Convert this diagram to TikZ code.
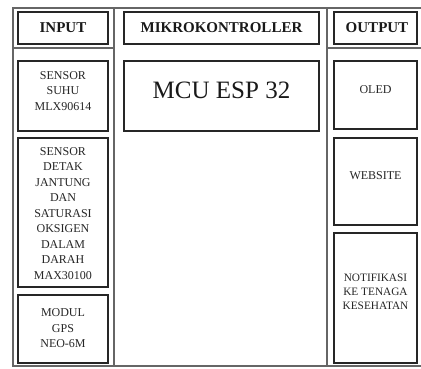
\documentclass[tikz,border=0pt]{standalone}
\usepackage{fontspec}
\setmainfont{Liberation Serif}
\begin{document}
\begin{tikzpicture}[x=1pt,y=-1pt,
  box/.style={draw=black!85, line width=1.1pt, inner sep=0pt, fill=none},
  frame/.style={draw=black!60, line width=1.4pt},
  hdr/.style={font=\fontsize{15}{18}\selectfont\bfseries, text=black!90, inner sep=0pt},
  lbl/.style={font=\fontsize{12}{15.5}\selectfont, align=center, text=black!85, inner sep=0pt},
  small/.style={font=\fontsize{11.3}{13.8}\selectfont, align=center, text=black!85, inner sep=0pt}]
\useasboundingbox (0,0) rectangle (421,368);
\fill[white] (0,0) rectangle (421,368);
% frame
\coordinate (tl) at (13,8);
\coordinate (tr) at (421,8);
\coordinate (bl) at (13,366);
\coordinate (br) at (421,366);
\draw[frame] (tr) -- (tl) -- (bl) -- (br);
\draw[frame] (114,8) -- (114,366);
\draw[frame] (327,8) -- (327,366);
\draw[frame] (13,48) -- (114,48);
\draw[frame] (327,48) -- (421,48);
% boxes
\node[box, minimum width=90pt, minimum height=32pt] (binput) at (63,28) {};
\node[box, minimum width=195pt, minimum height=32pt] (bmikro) at (221.5,28) {};
\node[box, minimum width=83pt, minimum height=32pt] (boutput) at (375.5,28) {};
\node[box, minimum width=90pt, minimum height=70pt] (bsuhu) at (63,96) {};
\node[box, minimum width=90pt, minimum height=149pt] (bdetak) at (63,212.5) {};
\node[box, minimum width=90pt, minimum height=68pt] (bgps) at (63,329) {};
\node[box, minimum width=195pt, minimum height=70pt] (bmcu) at (221.5,96) {};
\node[box, minimum width=83pt, minimum height=68pt] (boled) at (375.5,95) {};
\node[box, minimum width=83pt, minimum height=87pt] (bweb) at (375.5,181.5) {};
\node[box, minimum width=83pt, minimum height=130pt] (bnotif) at (375.5,298) {};
% texts
\node[hdr] (tinput) at (63,28) {INPUT};
\node[hdr] (tmikro) at (221.5,28) {MIKROKONTROLLER};
\node[hdr] (toutput) at (377,28) {OUTPUT};
\node[lbl] (tsuhu) at (63,91) {SENSOR\\SUHU\\MLX90614};
\node[lbl] (tdetak) at (63,213.5) {SENSOR\\DETAK\\JANTUNG\\DAN\\SATURASI\\OKSIGEN\\DALAM\\DARAH\\MAX30100};
\node[lbl] (tgps) at (63,328.5) {MODUL\\GPS\\NEO-6M};
\node[font=\fontsize{25}{30}\selectfont, text=black!90, inner sep=0pt] (tmcu) at (221.5,90.5) {MCU ESP 32};
\node[lbl] (toled) at (375.5,90) {OLED};
\node[lbl] (tweb) at (375.5,176) {WEBSITE};
\node[small] (tnotif) at (375.5,292) {NOTIFIKASI\\KE TENAGA\\KESEHATAN};
\end{tikzpicture}
\end{document}
